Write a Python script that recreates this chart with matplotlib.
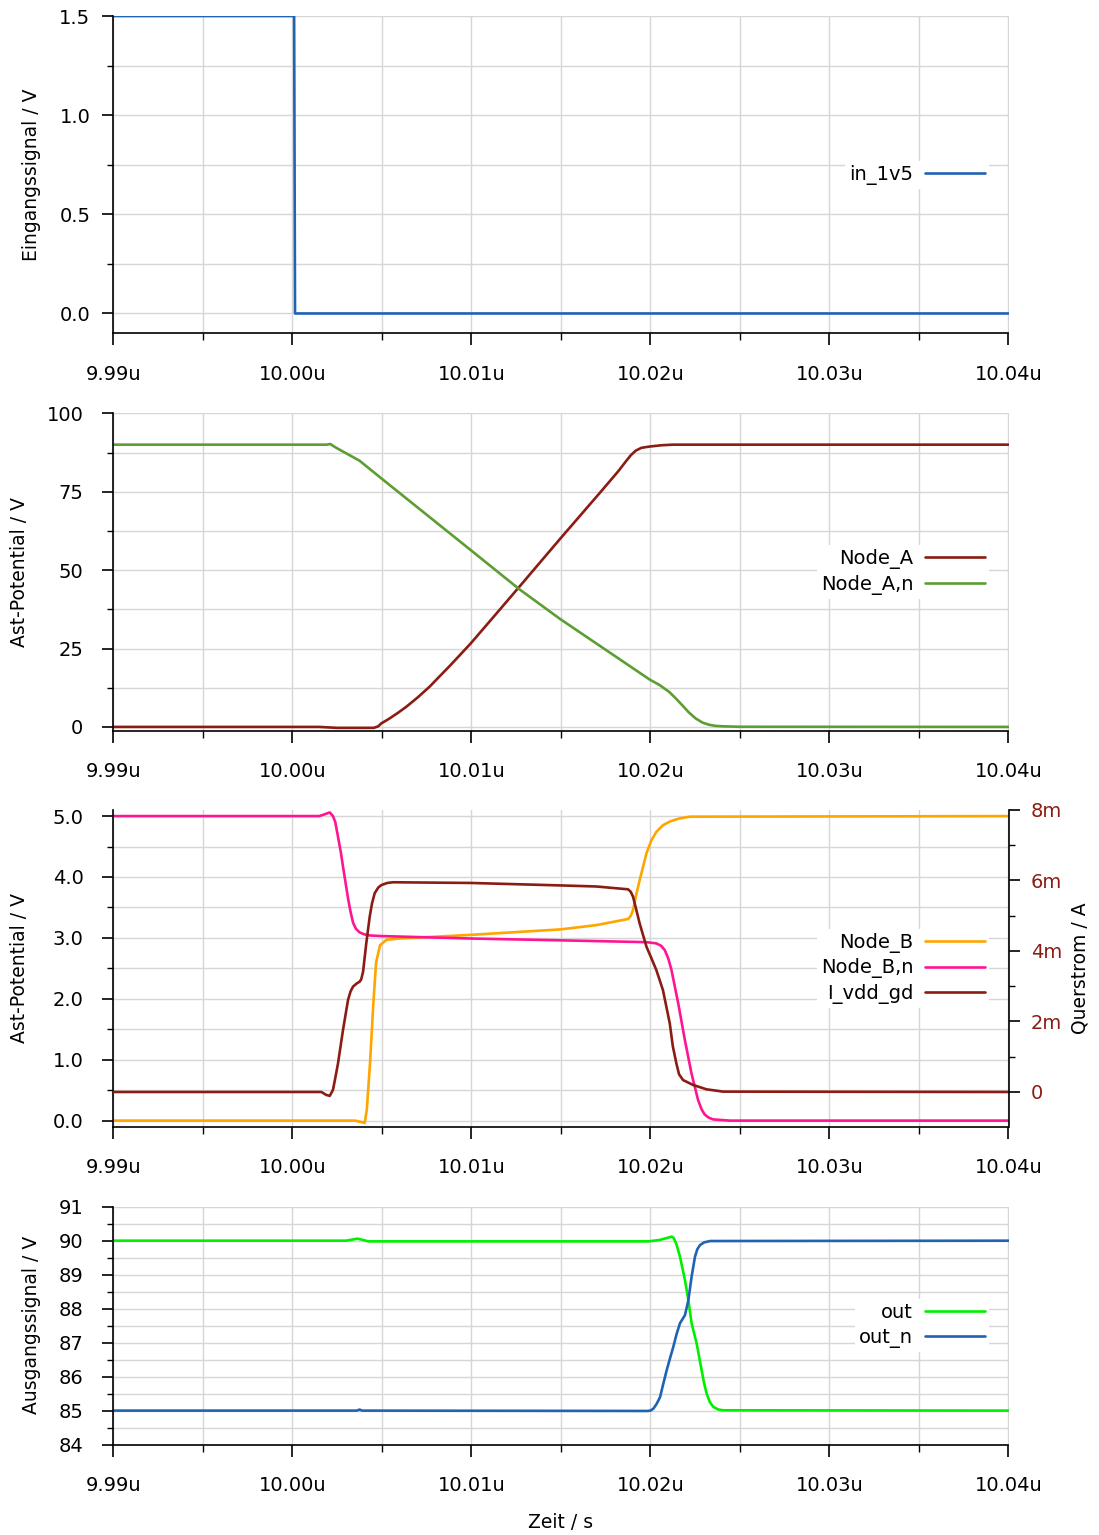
import matplotlib
matplotlib.use("Agg")
import matplotlib.pyplot as plt
from matplotlib.ticker import FixedLocator, NullFormatter

# ---------------- data ----------------
xticks_major = [9.99, 10.00, 10.01, 10.02, 10.03, 10.04]
xticks_minor = [9.995, 10.005, 10.015, 10.025, 10.035]
xtick_labels = ["9.99u", "10.00u", "10.01u", "10.02u", "10.03u", "10.04u"]

# panel 1: input signal
t_in = [9.99, 10.0001, 10.00015, 10.04]
v_in = [1.5, 1.5, 0.0, 0.0]

# panel 2: Node_A / Node_A,n
t_a = [9.99, 10.0015, 10.0025, 10.00455, 10.0048, 10.00496, 10.0052, 10.00543,
       10.0059, 10.00636, 10.007, 10.00766, 10.0088, 10.00996, 10.0113,
       10.01268, 10.01496, 10.01723, 10.0182, 10.01862, 10.0189, 10.01918,
       10.0195, 10.01996, 10.0206, 10.02123, 10.04]
v_a = [0.0, 0.0, -0.3, -0.3, 0.2, 1.1, 1.9, 2.7, 4.5, 6.4, 9.4, 12.8, 19.5,
       26.6, 35.5, 44.7, 60.0, 75.0, 81.5, 84.6, 86.6, 88.1, 89.0, 89.4, 89.8,
       90.0, 90.0]
t_an = [9.99, 10.0019, 10.00212, 10.00245, 10.00375, 10.00496, 10.00996,
        10.01268, 10.01496, 10.01996, 10.0205, 10.02104, 10.0214, 10.02178,
        10.02215, 10.02253, 10.0229, 10.02327, 10.0236, 10.02401, 10.025, 10.04]
v_an = [90.0, 90.0, 90.2, 89.0, 84.9, 79.3, 56.4, 43.9, 34.4, 15.1, 13.4, 11.2,
        9.2, 6.9, 4.6, 2.7, 1.4, 0.7, 0.35, 0.2, 0.05, 0.0]

# panel 3: Node_B / Node_B,n (V) and I_vdd_gd (mA)
t_b = [9.99, 10.0035, 10.00395, 10.00404, 10.00416, 10.00434, 10.00453,
       10.00468, 10.0049, 10.00527, 10.006, 10.00998, 10.01499, 10.01698,
       10.01875, 10.0189, 10.01903, 10.0192, 10.0194, 10.01978, 10.02005,
       10.02033, 10.0207, 10.02108, 10.0216, 10.0222, 10.04]
v_b = [0.0, 0.0, -0.03, -0.04, 0.18, 0.95, 1.95, 2.6, 2.88, 2.97, 2.99, 3.05,
       3.14, 3.21, 3.31, 3.36, 3.46, 3.7, 3.95, 4.39, 4.6, 4.74, 4.85, 4.91,
       4.96, 4.99, 5.0]
t_bn = [9.99, 10.0015, 10.00181, 10.00209, 10.00227, 10.0024, 10.00255,
        10.0027, 10.00283, 10.00311, 10.00325, 10.00339, 10.00355, 10.00376,
        10.004, 10.00432, 10.00497, 10.00998, 10.01499, 10.01978, 10.02033,
        10.0206, 10.0208, 10.021, 10.02117, 10.02155, 10.02192, 10.02229,
        10.02266, 10.02285, 10.02303, 10.02325, 10.0235, 10.02443, 10.04]
v_bn = [5.0, 5.0, 5.03, 5.06, 5.0, 4.9, 4.66, 4.42, 4.17, 3.65, 3.43, 3.25,
        3.15, 3.09, 3.06, 3.04, 3.03, 2.99, 2.96, 2.93, 2.91, 2.87, 2.80, 2.66,
        2.48, 1.93, 1.33, 0.78, 0.34, 0.19, 0.10, 0.05, 0.02, 0.0, 0.0]
t_i = [9.99, 10.00162, 10.0019, 10.00209, 10.00227, 10.0024, 10.00255,
       10.00283, 10.00311, 10.00325, 10.00339, 10.0036, 10.00376, 10.00385,
       10.00395, 10.00413, 10.00432, 10.00445, 10.0046, 10.0048, 10.00497,
       10.0053, 10.00562, 10.00998, 10.01499, 10.01698, 10.01875, 10.0189,
       10.01903, 10.0194, 10.01978, 10.02005, 10.02033, 10.0205, 10.0207,
       10.02108, 10.02125, 10.02145, 10.0216, 10.02182, 10.02238, 10.02313,
       10.02406, 10.04]
i_vdd = [0.0, 0.0, -0.085, -0.11, 0.06, 0.4, 0.81, 1.76, 2.61, 2.85, 2.99,
         3.08, 3.13, 3.2, 3.41, 4.22, 4.97, 5.35, 5.64, 5.8, 5.87, 5.93, 5.95,
         5.93, 5.86, 5.83, 5.75, 5.68, 5.54, 4.78, 4.12, 3.8, 3.46, 3.2, 2.89,
         1.95, 1.3, 0.81, 0.5, 0.34, 0.20, 0.076, 0.01, 0.0]

# panel 4: outputs
t_out = [9.99, 10.0030, 10.00364, 10.00425, 10.0199, 10.0205, 10.021, 10.02119,
         10.0213, 10.02145, 10.02165, 10.02193, 10.02212, 10.0223, 10.02258,
         10.02286, 10.023, 10.02314, 10.02332, 10.02351, 10.0238, 10.02407,
         10.04]
v_out = [90.0, 90.0, 90.06, 89.98, 89.98, 90.02, 90.09, 90.12, 90.08, 89.9,
         89.53, 88.84, 88.25, 87.57, 86.98, 86.19, 85.8, 85.5, 85.25, 85.11,
         85.03, 85.01, 85.0]
t_outn = [9.99, 10.0036, 10.00375, 10.0039, 10.0198, 10.02, 10.02017, 10.02035,
          10.02054, 10.0207, 10.02091, 10.0211, 10.02128, 10.02146, 10.02165,
          10.02193, 10.02212, 10.0223, 10.02249, 10.02262, 10.02277, 10.023,
          10.02333, 10.04]
v_outn = [85.0, 85.0, 85.03, 85.0, 84.99, 85.0, 85.06, 85.2, 85.4, 85.75,
          86.19, 86.55, 86.88, 87.25, 87.57, 87.81, 88.25, 88.94, 89.53, 89.75,
          89.87, 89.95, 89.99, 90.0]

# ---------------- style ----------------
plt.rcParams["font.family"] = ["DejaVu Sans"]
FS = 14
FSL = 13.5
C_BLUE = "#1f63b5"
C_DRED = "#8b1c13"
C_GREEN = "#5c9e32"
C_ORANGE = "#ffa500"
C_PINK = "#ff1493"
C_LIME = "#00f000"
GRID = "#d6d6d6"
LW = 1.9

W, H = 1099, 1535
fig = plt.figure(figsize=(W / 100, H / 100), dpi=100)

XL, XR = 113.3, 1008.5


def make_ax(top, bottom):
    return fig.add_axes([XL / W, 1 - bottom / H, (XR - XL) / W, (bottom - top) / H])


def style(ax, ymaj, ymin, ylim, ypad):
    ax.set_xlim(9.99, 10.04)
    ax.set_ylim(*ylim)
    ax.xaxis.set_major_locator(FixedLocator(xticks_major))
    ax.xaxis.set_minor_locator(FixedLocator(xticks_minor))
    ax.set_xticklabels(xtick_labels)
    ax.xaxis.set_minor_formatter(NullFormatter())
    ax.yaxis.set_major_locator(FixedLocator(ymaj))
    ax.yaxis.set_minor_locator(FixedLocator(ymin))
    ax.yaxis.set_minor_formatter(NullFormatter())
    ax.grid(which="both", color=GRID, lw=1.0)
    ax.set_axisbelow(True)
    for s in ("top", "right"):
        ax.spines[s].set_visible(False)
    for s in ("left", "bottom"):
        ax.spines[s].set_linewidth(1.2)
    ax.tick_params(axis="x", which="major", direction="out", length=8.5, width=1.2,
                   pad=14, labelsize=FS)
    ax.tick_params(axis="x", which="minor", direction="out", length=5, width=1.0)
    ax.tick_params(axis="y", which="major", direction="out", length=8, width=1.2,
                   pad=ypad, labelsize=FS)
    ax.tick_params(axis="y", which="minor", direction="out", length=4.5, width=1.0)


def legend(ax, handles, labels):
    lg = ax.legend(handles, labels, loc="center right", markerfirst=False,
                   fontsize=FS, frameon=True, framealpha=1.0, facecolor="white",
                   edgecolor="none", fancybox=False, borderpad=0.2,
                   borderaxespad=1.0, handlelength=3.1, handletextpad=0.6,
                   labelspacing=0.3)
    lg.set_zorder(10)
    return lg


def ylabel(x, y, text):
    fig.text(x / W, 1 - y / H, text, rotation=90, ha="center", va="center",
             fontsize=FSL)


def line(ax, t, v, c):
    l, = ax.plot(t, v, color=c, lw=LW, solid_joinstyle="round",
                 solid_capstyle="round")
    return l


# panel 1
ax1 = make_ax(16, 333.3)
style(ax1, [0.0, 0.5, 1.0, 1.5], [0.25, 0.75, 1.25], (-0.1, 1.5), 8.5)
ax1.set_yticklabels(["0.0", "0.5", "1.0", "1.5"])
l1 = line(ax1, t_in, v_in, C_BLUE)
legend(ax1, [l1], ["in_1v5"])
ylabel(32, 175, "Eingangssignal / V")

# panel 2
ax2 = make_ax(413.3, 731)
style(ax2, [0, 25, 50, 75, 100], [12.5, 37.5, 62.5, 87.5], (-1.3, 100), 13.5)
ax2.set_yticklabels(["0", "25", "50", "75", "100"])
l2a = line(ax2, t_a, v_a, C_DRED)
l2b = line(ax2, t_an, v_an, C_GREEN)
legend(ax2, [l2a, l2b], ["Node_A", "Node_A,n"])
ylabel(20, 572, "Ast-Potential / V")

# panel 3
ax3 = make_ax(810, 1126.7)
style(ax3, [0, 1, 2, 3, 4, 5], [0.5, 1.5, 2.5, 3.5, 4.5], (-0.1, 5.1), 13.5)
ax3.set_yticklabels(["0.0", "1.0", "2.0", "3.0", "4.0", "5.0"])
l3a = line(ax3, t_b, v_b, C_ORANGE)
l3b = line(ax3, t_bn, v_bn, C_PINK)
ax3r = ax3.twinx()
ax3r.set_ylim(-0.985, 8.0)
ax3r.yaxis.set_major_locator(FixedLocator([0, 2, 4, 6, 8]))
ax3r.yaxis.set_minor_locator(FixedLocator([1, 3, 5, 7]))
ax3r.yaxis.set_minor_formatter(NullFormatter())
ax3r.set_yticklabels(["0", "2m", "4m", "6m", "8m"])
for s in ("top", "left", "bottom"):
    ax3r.spines[s].set_visible(False)
ax3r.spines["right"].set_linewidth(1.2)
ax3r.tick_params(axis="y", which="major", direction="out", length=8, width=1.2,
                 pad=8, labelsize=FS, labelcolor=C_DRED)
ax3r.tick_params(axis="y", which="minor", direction="out", length=4.5, width=1.0)
l3c = line(ax3r, t_i, i_vdd, C_DRED)
legend(ax3r, [l3a, l3b, l3c], ["Node_B", "Node_B,n", "I_vdd_gd"])
ylabel(20, 968, "Ast-Potential / V")
ylabel(1080, 968, "Querstrom / A")

# panel 4
ax4 = make_ax(1206.7, 1444.6)
style(ax4, [84, 85, 86, 87, 88, 89, 90, 91],
      [84.5, 85.5, 86.5, 87.5, 88.5, 89.5, 90.5], (84, 91), 13.5)
ax4.set_yticklabels(["84", "85", "86", "87", "88", "89", "90", "91"])
l4a = line(ax4, t_out, v_out, C_LIME)
l4b = line(ax4, t_outn, v_outn, C_BLUE)
legend(ax4, [l4a, l4b], ["out", "out_n"])
ylabel(32, 1325, "Ausgangssignal / V")

fig.text(561 / W, 1 - 1522 / H, "Zeit / s", ha="center", va="center", fontsize=FSL)

fig.savefig("out.png", dpi=100)
